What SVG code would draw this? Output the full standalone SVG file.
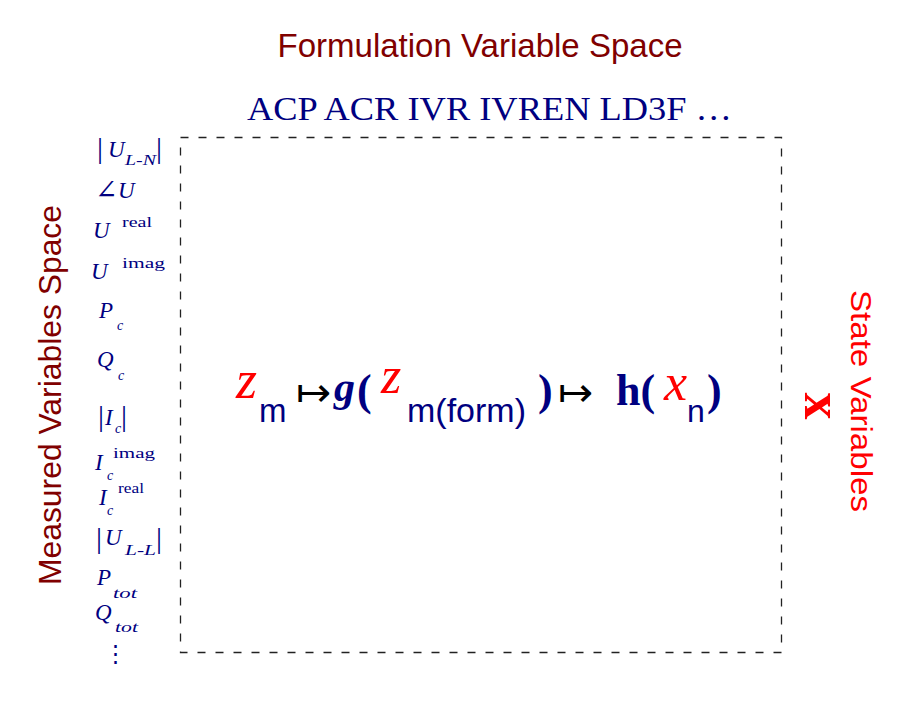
<svg xmlns="http://www.w3.org/2000/svg" width="900" height="720" viewBox="0 0 900 720">
<style>
.sans{font-family:"Liberation Sans","DejaVu Sans",sans-serif}
.serif{font-family:"Liberation Serif","DejaVu Serif",serif}
.it{font-family:"Liberation Serif","DejaVu Serif",serif;font-style:italic}
.navy{fill:#000080}
.maroon{fill:#800000}
.red{fill:#ff0000}
.lab{font-family:"Liberation Serif","DejaVu Serif",serif;font-style:italic;font-size:23px;fill:#000080}
.sub{font-size:14px}
.up{font-style:normal}
.bar{font-style:normal;font-size:30px}
.big{font-family:"Liberation Serif","DejaVu Serif",serif;font-weight:bold;font-size:44px;fill:#000080}
.arrow{font-family:"DejaVu Sans",sans-serif;font-weight:200;font-size:42px;fill:#000000}
</style>
<rect width="900" height="720" fill="#ffffff"/>
<g id="box">
<rect x="180.5" y="137.5" width="601" height="515" fill="none" stroke="#222" stroke-width="1.3" stroke-dasharray="8 10"/>
</g>
<g id="title">
<text class="sans maroon" x="480" y="57" font-size="33" text-anchor="middle" textLength="405" lengthAdjust="spacingAndGlyphs">Formulation Variable Space</text>
</g>
<g id="formulations">
<text class="serif navy" x="247" y="120" font-size="33" textLength="485" lengthAdjust="spacingAndGlyphs">ACP ACR IVR IVREN LD3F …</text>
</g>
<g id="measured-label">
<text class="sans maroon" transform="translate(61,395) rotate(-90)" font-size="32" text-anchor="middle" textLength="380" lengthAdjust="spacingAndGlyphs">Measured Variables Space</text>
</g>
<g id="state-label">
<text class="sans red" transform="translate(851,401) rotate(90)" font-size="30" text-anchor="middle" textLength="222" lengthAdjust="spacingAndGlyphs">State Variables</text>
</g>
<g id="state-x">
<text class="serif red" transform="translate(805,406) rotate(90)" font-size="54" font-weight="bold" text-anchor="middle">x</text>
</g>
<g id="measured-list">
<text class="lab"><tspan class="bar" x="97" y="158">|</tspan><tspan x="108" y="157">U</tspan><tspan class="sub" x="125" y="165" textLength="31" lengthAdjust="spacingAndGlyphs">L-N</tspan><tspan class="bar" x="156" y="158">|</tspan></text>
<text class="lab"><tspan class="up" x="95" y="199" font-size="27">∠</tspan><tspan x="118" y="198">U</tspan></text>
<text class="lab"><tspan x="93" y="238">U</tspan><tspan class="sub up" x="122" y="227" textLength="30" lengthAdjust="spacingAndGlyphs">real</tspan></text>
<text class="lab"><tspan x="91" y="279">U</tspan><tspan class="sub up" x="122" y="268" textLength="43" lengthAdjust="spacingAndGlyphs">imag</tspan></text>
<text class="lab"><tspan x="99" y="318">P</tspan><tspan class="sub" x="117" y="330">c</tspan></text>
<text class="lab"><tspan x="97" y="367">Q</tspan><tspan class="sub" x="118" y="380">c</tspan></text>
<text class="lab"><tspan class="bar" x="98" y="426">|</tspan><tspan x="105" y="425">I</tspan><tspan class="sub" x="115" y="433">c</tspan><tspan class="bar" x="121" y="426">|</tspan></text>
<text class="lab"><tspan x="95" y="470">I</tspan><tspan class="sub up" x="113" y="458" textLength="42" lengthAdjust="spacingAndGlyphs">imag</tspan><tspan class="sub" x="107" y="480">c</tspan></text>
<text class="lab"><tspan x="99" y="505">I</tspan><tspan class="sub up" x="118" y="493" textLength="26" lengthAdjust="spacingAndGlyphs">real</tspan><tspan class="sub" x="107" y="515">c</tspan></text>
<text class="lab"><tspan class="bar" x="96" y="548">|</tspan><tspan x="105" y="545">U</tspan><tspan class="sub" x="125" y="555" textLength="31" lengthAdjust="spacingAndGlyphs">L-L</tspan><tspan class="bar" x="156" y="548">|</tspan></text>
<text class="lab"><tspan x="97" y="585">P</tspan><tspan class="sub" x="113" y="598" textLength="24" lengthAdjust="spacingAndGlyphs">tot</tspan></text>
<text class="lab"><tspan x="95" y="620">Q</tspan><tspan class="sub" x="115" y="632" textLength="23" lengthAdjust="spacingAndGlyphs">tot</tspan></text>
<text class="lab up" x="115" y="661" font-size="34" text-anchor="middle">⋮</text>
</g>
<g id="formula">
<text class="it red" x="236" y="398" font-size="54">z</text>
<text class="sans navy" x="259" y="422" font-size="33">m</text>
<text class="arrow" x="296" y="406">↦</text>
<text class="it navy" x="334" y="401" font-size="42" font-weight="bold">g</text>
<text class="big" x="357" y="405">(</text>
<text class="it red" x="381" y="393" font-size="52">z</text>
<text class="sans navy" x="407" y="422" font-size="34">m(form)</text>
<text class="big" x="538" y="405">)</text>
<text class="arrow" x="558" y="406">↦</text>
<text class="big" x="616" y="405">h(</text>
<text class="it red" x="664" y="400" font-size="52">x</text>
<text class="sans navy" x="687" y="422" font-size="32">n</text>
<text class="big" x="707" y="405">)</text>
</g>
</svg>
